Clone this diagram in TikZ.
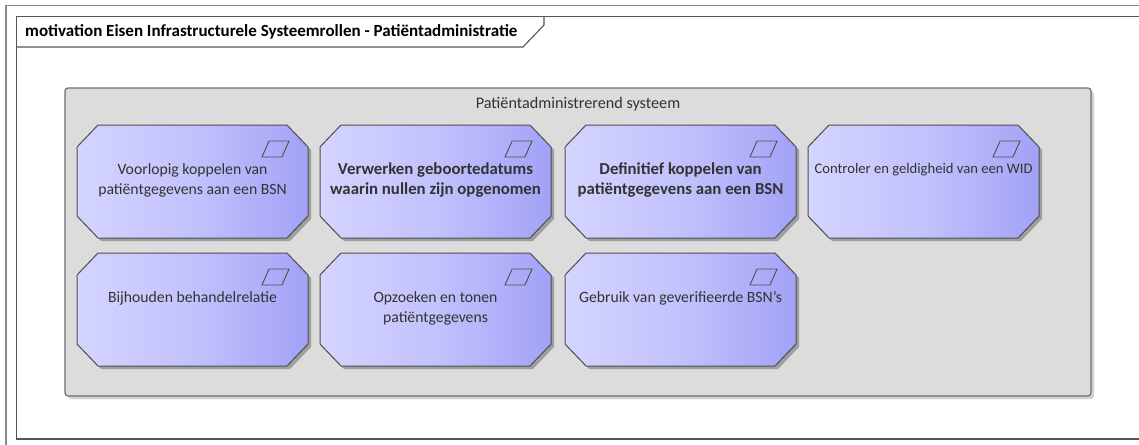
\documentclass[tikz,border=0pt]{standalone}
\usepackage{fontspec}
\setmainfont{Carlito}
\usetikzlibrary{shadows}
\definecolor{framegray}{HTML}{555555}
\definecolor{outergray}{HTML}{8A8A8A}
\definecolor{groupfill}{HTML}{DCDCDC}
\definecolor{groupline}{HTML}{6E6E6E}
\definecolor{octline}{HTML}{4E4E4E}
\definecolor{octleft}{HTML}{D4D4FF}
\definecolor{octmid}{HTML}{C2C2FD}
\definecolor{octright}{HTML}{A2A2F6}
\definecolor{txt}{HTML}{333333}
\tikzset{
  outerframe/.style={draw=outergray,line width=1.4pt},
  innerframe/.style={draw=framegray,line width=1.3pt},
  groupbox/.style={draw=groupline,line width=1.2pt,fill=groupfill,rounded corners=3pt,
     drop shadow={shadow xshift=3pt,shadow yshift=-3pt,fill=black,opacity=0.18}},
  octfill/.style={draw=octline,line width=1pt,left color=octleft,right color=octright,middle color=octmid,
     drop shadow={shadow xshift=3pt,shadow yshift=-3pt,fill=black,opacity=0.28}},
  iconline/.style={draw=octline,line width=0.9pt,line join=miter},
  boxtext/.style={align=center,inner sep=0pt,text=txt,font=\fontsize{15.7}{20}\selectfont},
  boldtext/.style={boxtext,font=\fontsize{16.8}{20}\selectfont\bfseries},
  titletext/.style={anchor=west,inner sep=0pt,font=\fontsize{17}{20}\selectfont\bfseries,text=black},
  grouplabel/.style={inner sep=0pt,text=txt,font=\fontsize{16.2}{20}\selectfont},
}
% #1 name, #2 left, #3 top, #4 text y offset, #5 style, #6 text
\newcommand\reqbox[6]{%
  \path[octfill] (#2+21,#3) -- (#2+210,#3) -- (#2+231,#3+22) -- (#2+231,#3+91)
     -- (#2+210,#3+113) -- (#2+21,#3+113) -- (#2,#3+91) -- (#2,#3+22) -- cycle;
  \draw[iconline] (#2+185,#3+32) -- (#2+192,#3+16) -- (#2+212,#3+16) -- (#2+205,#3+32) -- cycle;
  \node[#5] (#1) at (#2+115.5,#3+#4) {#6};
}
\begin{document}
\begin{tikzpicture}[x=1pt,y=-1pt]
\useasboundingbox (0,0) rectangle (1139,444);
\clip (0,0) rectangle (1139,444);
% outer frame
\draw[outerframe] (6,460) -- (6,5.5) -- (1150,5.5);
% inner frame
\draw[innerframe] (16.5,16.5) rectangle (1150,439);
% title tab
\draw[innerframe,line width=1.1pt] (16.5,47) -- (523,47) -- (544,25) -- (544,16.5);
\node[titletext] (title) at (25,31.5) {motivation Eisen Infrastructurele Systeemrollen - Patiëntadministratie};
% group
\path[groupbox] (65,88) rectangle (1091,396);
\node[grouplabel] (grp) at (578,104) {Patiëntadministrerend systeem};
% requirement boxes
\reqbox{r1}{77}{125}{55}{boxtext}{Voorlopig koppelen van\\patiëntgegevens aan een BSN}
\reqbox{r2}{320}{125}{55}{boldtext}{Verwerken geboortedatums\\waarin nullen zijn opgenomen}
\reqbox{r3}{565}{125}{55}{boldtext}{Definitief koppelen van\\patiëntgegevens aan een BSN}
\reqbox{r4}{808}{125}{45}{boxtext}{\resizebox{218pt}{!}{Controler en geldigheid van een WID}}
\reqbox{r5}{77}{253}{45}{boxtext}{Bijhouden behandelrelatie}
\reqbox{r6}{320}{253}{55}{boxtext}{Opzoeken en tonen\\patiëntgegevens}
\reqbox{r7}{565}{253}{45}{boxtext}{Gebruik van geverifieerde BSN's}
\end{tikzpicture}
\end{document}
